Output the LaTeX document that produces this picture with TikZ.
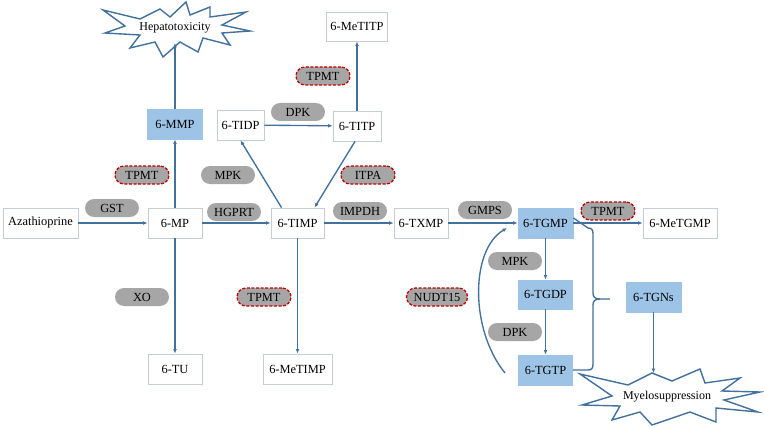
\documentclass[tikz,border=0pt]{standalone}
\usepackage{fontspec}
\setmainfont{Liberation Serif}
\usetikzlibrary{arrows.meta,calc}
\definecolor{linec}{RGB}{65,113,156}
\definecolor{boxborder}{RGB}{196,204,214}
\definecolor{bluefill}{RGB}{157,195,230}
\definecolor{pillgrey}{RGB}{166,166,166}
\definecolor{reddash}{RGB}{192,0,0}
\tikzset{
  box/.style={draw=boxborder, line width=0.8pt, fill=white, minimum height=30pt, inner sep=0pt, font=\fontsize{12.4}{14}\selectfont},
  bluebox/.style={box, draw=bluefill, fill=bluefill},
  pill/.style={fill=pillgrey, rounded corners=9pt, minimum width=54pt, minimum height=18pt, inner sep=0pt, font=\fontsize{12.4}{14}\selectfont},
  redpill/.style={pill, draw=reddash, line width=1.3pt, dash pattern=on 3pt off 1.6pt},
  conn/.style={draw=linec, line width=1.35pt, -{Latex[length=4.5pt,width=3.8pt]}},
  plain/.style={draw=linec, line width=1.35pt},
  star/.style={draw=linec, line width=1.4pt, fill=white, line join=miter},
  startext/.style={font=\fontsize{12}{14}\selectfont, inner sep=0pt}
}
\begin{document}
\begin{tikzpicture}[x=1pt,y=-1pt]
\useasboundingbox[fill=white] (0,0) rectangle (764,428);

% stars
\draw[star] (103,10) -- (140,19) -- (160,9) -- (170,17) -- (186,2) -- (190,15) -- (210,7) -- (210,17) -- (246,12) -- (222,25) -- (250,31) -- (222,33) -- (230,45) -- (203,38) -- (198,52) -- (180,42) -- (163,57) -- (155,42) -- (130,48) -- (140,35) -- (105,33) -- (125,26) -- cycle;
\node[startext] (hep) at (175,28) {Hepatotoxicity};
\coordinate (hepin) at (175,43);

\draw[star] (580,374) -- (628,385) -- (652,373) -- (672,381) -- (700,369) -- (705,383) -- (740,378) -- (722,391) -- (760,392) -- (724,400) -- (758,412) -- (716,408) -- (716,422) -- (690,412) -- (652,425) -- (640,412) -- (612,420) -- (620,406) -- (582,405) -- (612,396) -- cycle;
\node[startext] (myelo) at (667,397) {Myelosuppression};
\coordinate (myeloin) at (653.5,373);

% boxes
\node[box, minimum width=75pt] (aza) at (40.5,223) {Azathioprine};
\node[box, minimum width=54pt] (mp) at (175,223) {6-MP};
\node[bluebox, minimum width=55pt] (mmp) at (175,124) {6-MMP};
\node[box, minimum width=47pt] (tidp) at (240.5,125) {6-TIDP};
\node[box, minimum width=48pt] (titp) at (357,126) {6-TITP};
\node[box, minimum width=61pt, minimum height=29pt] (metitp) at (357,26.5) {6-MeTITP};
\node[box, minimum width=53pt] (timp) at (297.5,223) {6-TIMP};
\node[box, minimum width=54pt] (txmp) at (421,223) {6-TXMP};
\node[bluebox, minimum width=55pt] (tgmp) at (545.5,223) {6-TGMP};
\node[box, minimum width=74pt] (metgmp) at (680,223) {6-MeTGMP};
\node[bluebox, minimum width=54pt, minimum height=29pt] (tgdp) at (545.5,294.5) {6-TGDP};
\node[bluebox, minimum width=54pt] (tgtp) at (545.5,370) {6-TGTP};
\node[bluebox, minimum width=55pt] (tgns) at (653.5,297) {6-TGNs};
\node[box, minimum width=54pt] (tu) at (175,369) {6-TU};
\node[box, minimum width=69pt] (metimp) at (297.5,369) {6-MeTIMP};

% enzymes
\node[pill] (gst) at (112,208) {GST};
\node[redpill] (tpmta) at (142,175) {TPMT};
\node[pill] (mpka) at (228,175) {MPK};
\node[pill] (hgprt) at (234,212) {HGPRT};
\node[pill] (xo) at (142,297) {XO};
\node[redpill] (tpmtb) at (264,297) {TPMT};
\node[redpill] (tpmtc) at (323,76) {TPMT};
\node[pill] (dpka) at (298,112) {DPK};
\node[redpill] (itpa) at (368,175) {ITPA};
\node[pill] (impdh) at (360,211) {IMPDH};
\node[pill] (gmps) at (485,210) {GMPS};
\node[redpill] (tpmtd) at (608,211) {TPMT};
\node[pill] (mpkb) at (515,261) {MPK};
\node[pill] (dpkb) at (515,332) {DPK};
\node[redpill, minimum width=61pt] (nudt) at (437,297) {NUDT15};

% connectors
\draw[conn] (aza) -- (mp);
\draw[conn] (mp) -- (timp);
\draw[conn] (mp) -- (mmp);
\draw[conn] (mmp) -- (hepin);
\draw[conn] (mp) -- (tu);
\draw[conn] ([xshift=-16pt]timp.north) -- (tidp.south);
\draw[conn] (tidp) -- (titp);
\draw[conn] (titp) -- (metitp);
\draw[conn] ([xshift=-2pt]titp.south) -- ([xshift=17pt]timp.north);
\draw[conn] (timp) -- (txmp);
\draw[conn] (timp) -- (metimp);
\draw[conn] (txmp) -- (tgmp);
\draw[conn] (tgmp) -- (metgmp);
\draw[conn] (tgmp) -- (tgdp);
\draw[conn] (tgdp) -- (tgtp);
\draw[conn] (tgns) -- (myeloin);
\coordinate (nudtA) at (505,373);
\coordinate (nudtB) at (507,228);
\draw[conn] (nudtA) .. controls (470,330) and (470,250) .. (nudtB);

% brace
\draw[plain] ([yshift=5pt]tgmp.east) -- (588,228) .. controls (592,228) and (593,230) .. (593,234) -- (593,293) .. controls (593,297) and (595,299) .. (600,299) -- (610,299);
\draw[plain] (600,299) .. controls (595,299) and (593,301) .. (593,305) -- (593,364) .. controls (593,368) and (592,370) .. (588,370) -- (tgtp.east);
\end{tikzpicture}
\end{document}
